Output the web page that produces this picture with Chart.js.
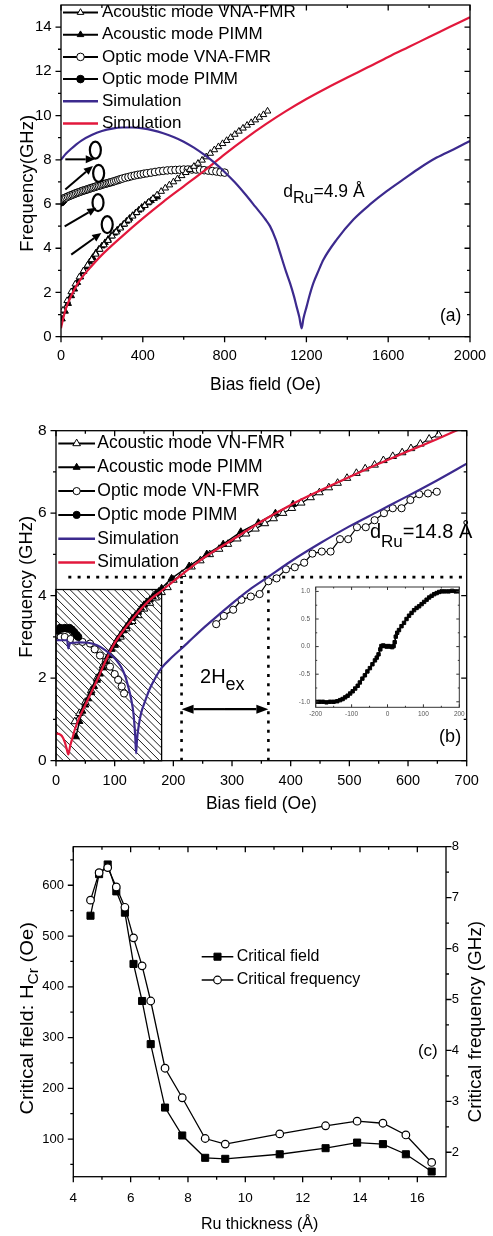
<!DOCTYPE html>
<html><head><meta charset="utf-8">
<script src="https://cdn.jsdelivr.net/npm/chart.js@4.4.1/dist/chart.umd.min.js"></script>
<style>
html,body{margin:0;padding:0;background:#fff;overflow:hidden}
#wrap{position:relative;width:493px;height:1236px;background:#fff}
canvas{position:absolute;left:0}
</style></head><body>
<div id="wrap">
<canvas id="ca" width="493" height="400" style="top:0px"></canvas>
<canvas id="cb" width="493" height="420" style="top:400px"></canvas>
<canvas id="cc" width="493" height="416" style="top:820px"></canvas>
<canvas id="cd" width="175" height="145" style="top:580px;left:290px"></canvas>
</div>
<script>
// ================= Panel (a) data =================
const A_X_TICKS = [0,400,800,1200,1600,2000];
const A_X_MINOR = [200,600,1000,1400,1800];
const A_Y_TICKS = [0,2,4,6,8,10,12,14];
const A_Y_MINOR = [1,3,5,7,9,11,13];
const A_LABELS = ['Acoustic mode VNA-FMR','Acoustic mode PIMM','Optic mode VNA-FMR','Optic mode PIMM','Simulation','Simulation'];

const A_AC_VNA_H = [10,30,50,70,90,110,130,150,170,190,210,230,250,270,290,310,330,350,370,390,410,430,450,470,490,510,530,550,570,590,610,630,650,670,690,710,730,750,770,790,810,830,850,870,890,910,930,950,970,990,1010];
const A_AC_VNA_F = [1.2,1.63,2.03,2.38,2.7,2.98,3.23,3.48,3.73,3.95,4.15,4.35,4.55,4.73,4.91,5.09,5.27,5.45,5.61,5.77,5.93,6.09,6.25,6.41,6.57,6.72,6.86,7.0,7.14,7.28,7.42,7.56,7.7,7.84,7.98,8.13,8.29,8.45,8.59,8.73,8.87,9.01,9.15,9.29,9.43,9.56,9.68,9.8,9.92,10.04,10.2];

const A_AC_PIMM_H = [5,20,35,50,65,80,95,110,125,140,155,170,185,200,215,230,245,260,275,290,305,320,335,350,365,380,395,410,425,440,455,470];
const A_AC_PIMM_F = [0.8,1.15,1.5,1.85,2.15,2.45,2.7,2.95,3.15,3.38,3.58,3.78,3.95,4.1,4.25,4.4,4.55,4.68,4.82,4.95,5.08,5.22,5.35,5.48,5.6,5.72,5.85,5.95,6.05,6.15,6.25,6.32];

const A_OP_VNA_H = [2,10,18,26,34,42,50,58,66,74,82,90,98,106,114,122,130,138,146,154,162,170,178,186,194,202,210,218,226,234,242,250,260,270,280,290,300,315,330,345,360,375,390,405,420,440,460,480,500,520,540,560,580,600,620,640,660,680,700,720,740,760,780,800];
const A_OP_VNA_F = [6.21,6.24,6.27,6.3,6.34,6.37,6.4,6.43,6.46,6.49,6.52,6.54,6.57,6.6,6.62,6.64,6.67,6.69,6.72,6.74,6.76,6.79,6.81,6.83,6.85,6.88,6.9,6.92,6.94,6.96,6.98,7.0,7.03,7.06,7.09,7.12,7.15,7.19,7.22,7.26,7.29,7.32,7.34,7.37,7.39,7.42,7.45,7.48,7.5,7.52,7.53,7.54,7.55,7.56,7.56,7.56,7.56,7.55,7.53,7.51,7.49,7.47,7.44,7.42];

const A_OP_PIMM_H = [1,4,7,10,13];
const A_OP_PIMM_F = [6.08,6.12,6.15,6.18,6.2];

const A_SIM_BLUE_H = [0,25,50,75,100,150,200,250,300,350,400,450,500,550,600,650,700,750,800,850,900,950,1000,1022,1050,1071,1100,1120,1140,1152,1165,1177,1185,1201,1215,1234,1260,1283,1348,1430,1511,1593,1674,1756,1837,1919,2000];
const A_SIM_BLUE_F = [8.0,8.28,8.5,8.7,8.87,9.12,9.3,9.41,9.46,9.46,9.42,9.33,9.2,9.03,8.82,8.55,8.23,7.87,7.45,6.98,6.45,5.88,5.3,5.0,4.4,3.8,2.95,2.42,1.8,1.36,0.9,0.38,0.8,1.36,1.85,2.42,3.0,3.48,4.39,5.3,5.98,6.58,7.11,7.64,8.1,8.47,8.85];

const A_SIM_RED_H = [0,10,25,50,75,100,150,200,300,400,500,600,700,800,900,1000,1100,1200,1300,1400,1500,1600,1700,1800,1900,2000];
const A_SIM_RED_F = [0.38,0.8,1.3,1.85,2.3,2.65,3.2,3.7,4.55,5.35,6.1,6.8,7.5,8.25,8.95,9.6,10.2,10.75,11.25,11.72,12.18,12.65,13.1,13.55,14.0,14.45];

// annotation arrows [H1,f1,H2,f2] and rings [H,f] (data units)
const A_ARROWS = [[21,8.02,165,8.02],[21,6.66,156,7.72],[18,4.99,173,5.83],[50,3.71,197,4.69]];
const A_RINGS = [[168,8.44],[184,7.39],[181,6.06],[226,5.07]];
const A_NOTE_AT = [1087,6.33];
const A_TAG_AT = [1853,0.91];

// ================= Panel (b) data =================
const B_X_TICKS = [0,100,200,300,400,500,600,700];
const B_X_MINOR = [50,150,250,350,450,550,650];
const B_Y_TICKS = [0,2,4,6,8];
const B_Y_MINOR = [1,3,5,7];
const B_LABELS = ['Acoustic mode VN-FMR','Acoustic mode PIMM','Optic mode VN-FMR','Optic mode PIMM','Simulation','Simulation'];

const B_AC_VNA_H = [32,40,50,60,70,80,90,100,110,120,130,140,150,160,170,180,190,200,215,231,246,262,278,293,309,324,340,356,371,387,402,418,434,449,465,480,496,512,527,543,558,574,590,605,621,636,652];
const B_AC_VNA_F = [0.95,1.15,1.42,1.7,2.0,2.3,2.55,2.8,3.0,3.2,3.38,3.52,3.68,3.82,3.95,4.08,4.2,4.38,4.52,4.7,4.85,5.0,5.13,5.25,5.38,5.5,5.62,5.75,5.87,6.0,6.12,6.25,6.38,6.5,6.62,6.73,6.85,6.97,7.08,7.17,7.28,7.38,7.47,7.57,7.68,7.8,7.9];

const B_AC_PIMM_H = [34,40,45,50,55,60,65,70,75,80,85,90,95,100,105,110,115,120,125,130,135,140,145,150,155,160,165,170,175,180,197,227,257,285,315,345,374,404];
const B_AC_PIMM_F = [0.58,0.95,1.2,1.35,1.5,1.65,1.8,1.95,2.1,2.25,2.4,2.55,2.7,2.82,2.95,3.05,3.15,3.25,3.35,3.45,3.52,3.6,3.7,3.78,3.85,3.9,3.98,4.05,4.1,4.18,4.42,4.72,5.01,5.25,5.55,5.77,6.0,6.22];

const B_OP_VNA_H = [3,8,15,25,35,45,58,66,75,85,92,100,106,112,116,200,273,286,302,316,332,347,362,376,392,407,423,437,453,468,484,498,513,528,543,559,574,589,604,619,634,649];
const B_OP_VNA_F = [3.05,3.0,3.0,2.95,2.9,2.88,2.84,2.7,2.55,2.4,2.28,2.1,1.96,1.8,1.63,null,3.31,3.51,3.66,3.9,3.98,4.04,4.35,4.42,4.64,4.69,4.8,5.02,5.07,5.07,5.37,5.37,5.66,5.66,5.83,6.0,6.12,6.12,6.32,6.46,6.48,6.52];

const B_OP_PIMM_H = [3,7,11,15,19,23,27,31,35,38];
const B_OP_PIMM_F = [3.15,3.22,3.2,3.22,3.2,3.22,3.18,3.12,3.05,3.0];

const B_SIM_BLUE_H = [0,10,19,21,24,30,40,55,70,84,95,105,112,118,123,128,132,135,136.5,138,141,145,152,160,169,180,197,214,226,254,280,305,330,362,400,450,500,550,600,650,700];
const B_SIM_BLUE_F = [2.92,2.92,2.92,2.72,2.85,2.86,2.87,2.86,2.8,2.68,2.55,2.4,2.25,2.05,1.8,1.5,1.15,0.6,0.18,0.5,0.85,1.15,1.45,1.75,2.0,2.25,2.5,2.72,2.88,3.25,3.57,3.87,4.15,4.46,4.83,5.27,5.68,6.05,6.42,6.8,7.2];

const B_SIM_RED_H = [0,5,10,15,18,21,24,28,32,40,50,60,70,84,100,120,140,160,180,200,250,300,350,400,450,500,550,600,650,690];
const B_SIM_RED_F = [0.66,0.65,0.6,0.45,0.3,0.15,0.35,0.55,0.75,1.05,1.35,1.65,1.95,2.4,2.85,3.25,3.6,3.9,4.12,4.35,4.9,5.35,5.8,6.2,6.55,6.88,7.2,7.5,7.8,8.05];

const B_HATCH = [0,180,0,4.15];          // H0,H1,f0,f1
const B_HEX = [214,362];                 // 2Hex field bounds
const B_HEX_LEVEL = 4.45;                // horizontal dotted level
const B_DOT_START = 21;
const B_ARROW_LEVEL = 1.25;
const B_HEX_TEXT_AT = [245.5,1.876];
const B_NOTE_AT = [535,5.39];
const B_TAG_AT = [653,0.567];

// Inset (hysteresis loop)
const INS_X_TICKS = [-200,-100,0,100,200];
const INS_X_MINOR = [-150,-50,50,150];
const INS_Y_TICKS = [-1,-0.5,0,0.5,1];
const INS_Y_MINOR = [-0.75,-0.25,0.25,0.75];
const INS_H = [-200,-190,-180,-170,-160,-150,-140,-132,-125,-118,-111,-104,-97,-90,-83,-77,-70,-63,-56,-49,-42,-35,-30,-25,-20,-17,-12,-7,-2,3,8,13,17,20,23,27,32,39,46,53,60,67,74,81,88,95,102,109,116,123,130,137,144,151,160,170,180,190,200];
const INS_M = [-1.0,-1.0,-1.0,-1.01,-1.0,-1.0,-0.99,-0.97,-0.95,-0.92,-0.89,-0.85,-0.81,-0.76,-0.71,-0.65,-0.58,-0.52,-0.45,-0.39,-0.32,-0.25,-0.2,-0.14,-0.05,0.01,0.02,0.01,0.0,0.01,0.0,-0.01,0.01,0.08,0.18,0.25,0.3,0.37,0.43,0.5,0.56,0.61,0.66,0.7,0.73,0.77,0.81,0.85,0.89,0.92,0.95,0.97,0.99,1.0,1.0,1.0,1.01,1.0,1.0];

// ================= Panel (c) data =================
const C_X_TICKS = [4,6,8,10,12,14,16];
const C_X_MINOR = [5,7,9,11,13,15];
const C_Y_TICKS = [100,200,300,400,500,600];
const C_Y_MINOR = [50,150,250,350,450,550,650];
const C_Y2_TICKS = [2,3,4,5,6,7,8];
const C_Y2_MINOR = [2.5,3.5,4.5,5.5,6.5,7.5];
const C_LABELS = ['Critical field','Critical frequency'];
const C_RU = [4.6,4.9,5.2,5.5,5.8,6.1,6.4,6.7,7.2,7.8,8.6,9.3,11.2,12.8,13.9,14.8,15.6,16.5];
const C_FIELD = [540,622,641,588,546,445,372,287,162,107,63,61,70,82,93,90,70,36];
const C_FREQ = [6.95,7.49,7.59,7.21,6.81,6.21,5.66,4.97,3.65,3.07,2.27,2.16,2.36,2.52,2.61,2.57,2.34,1.80];
const C_TAG_AT = [16.02,272];

// ================= helpers =================
const FONT = '"Liberation Sans", Arial, Helvetica, sans-serif';
Chart.defaults.font.family = FONT;
Chart.defaults.color = '#000';
const BLUE = '#3c2a8e', RED = '#e2183c';
const num = v => String(v);

function pts(xs, ys) { return xs.map((x, i) => ({x: x, y: ys[i]})); }

function series(label, xs, ys, st) {
  return {
    label: label, data: pts(xs, ys),
    borderColor: st.line, borderWidth: st.lw,
    pointStyle: st.ps || 'circle', pointRadius: st.r || 0, pointHoverRadius: st.r || 0,
    pointBackgroundColor: st.fill || '#000', pointBorderColor: '#000', pointBorderWidth: st.pbw || 1,
    cubicInterpolationMode: st.smooth ? 'monotone' : 'default', tension: 0,
    spanGaps: false, fill: false, order: st.order, yAxisID: st.yid || 'y',
    legendLw: st.llw || 2
  };
}

function xScale(min, max, ticks, o) {
  return {
    type: 'linear', min: min, max: max, position: 'bottom',
    grid: {display: false, drawTicks: false}, border: {display: false},
    afterBuildTicks: s => { s.ticks = ticks.map(v => ({value: v})); },
    afterFit: s => { s.height = o.h; s.paddingLeft = 0; s.paddingRight = 0; },
    ticks: {autoSkip: false, maxRotation: 0, minRotation: 0, padding: o.pad, color: o.color || '#000',
            font: {size: o.fs}, callback: o.fmt || num},
    title: o.title ? {display: true, text: o.title, color: '#000', font: {size: o.tfs},
            padding: {top: 0, bottom: o.tpad}} : {display: false}
  };
}
function yScale(min, max, ticks, o) {
  return {
    type: 'linear', min: min, max: max, position: o.pos || 'left',
    grid: {display: false, drawTicks: false}, border: {display: false},
    afterBuildTicks: s => { s.ticks = ticks.map(v => ({value: v})); },
    afterFit: s => { s.width = o.w; s.paddingTop = 0; s.paddingBottom = 0; },
    ticks: {autoSkip: false, padding: o.pad, color: o.color || '#000', font: {size: o.fs}, callback: o.fmt || num},
    title: {display: false}
  };
}

function framePlugin(spec) {
  return { id: 'frame', afterDatasetsDraw(chart) {
    const ctx = chart.ctx, a = chart.chartArea, sx = chart.scales.x, sy = chart.scales.y, sy2 = chart.scales.y2;
    const M = spec.M, m = spec.m, out = spec.out ? 1 : -1;
    ctx.save();
    ctx.strokeStyle = spec.color; ctx.lineWidth = spec.lw; ctx.setLineDash([]);
    ctx.strokeRect(a.left, a.top, a.right - a.left, a.bottom - a.top);
    ctx.beginPath();
    const xt = (vals, len) => vals.forEach(v => { const p = sx.getPixelForValue(v);
      ctx.moveTo(p, a.bottom); ctx.lineTo(p, a.bottom + out * len);
      ctx.moveTo(p, a.top); ctx.lineTo(p, a.top + len); });
    const yt = (vals, len) => vals.forEach(v => { const p = sy.getPixelForValue(v);
      ctx.moveTo(a.left, p); ctx.lineTo(a.left - out * len, p);
      if (!sy2) { ctx.moveTo(a.right, p); ctx.lineTo(a.right - len, p); } });
    const y2t = (vals, len) => vals.forEach(v => { const p = sy2.getPixelForValue(v);
      ctx.moveTo(a.right, p); ctx.lineTo(a.right + out * len, p); });
    xt(spec.xM, M); xt(spec.xm, m); yt(spec.yM, M); yt(spec.ym, m);
    if (sy2) { y2t(spec.y2M, M); y2t(spec.y2m, m); }
    ctx.stroke(); ctx.restore();
  }};
}

function drawLegend(chart, L) {
  const ctx = chart.ctx;
  chart.data.datasets.forEach((d, i) => {
    const y = L.y0 + i * L.dy;
    ctx.save();
    ctx.strokeStyle = d.borderColor; ctx.lineWidth = d.legendLw;
    ctx.beginPath(); ctx.moveTo(L.x0, y); ctx.lineTo(L.x1, y); ctx.stroke();
    if (d.pointRadius > 0) {
      ctx.fillStyle = d.pointBackgroundColor; ctx.strokeStyle = d.pointBorderColor; ctx.lineWidth = d.pointBorderWidth;
      Chart.helpers.drawPoint(ctx, {pointStyle: d.pointStyle, radius: d.pointRadius, rotation: 0, borderWidth: d.pointBorderWidth}, (L.x0 + L.x1) / 2, y);
    }
    ctx.fillStyle = '#000'; ctx.font = L.fs + 'px ' + FONT; ctx.textBaseline = 'middle'; ctx.textAlign = 'left';
    ctx.fillText(d.label, L.tx, y);
    ctx.restore();
  });
}

function drawRich(ctx, x, y, parts) {
  let cx = x;
  ctx.textBaseline = 'alphabetic'; ctx.textAlign = 'left'; ctx.fillStyle = '#000';
  parts.forEach(p => { ctx.font = p[1] + 'px ' + FONT; ctx.fillText(p[0], cx, y + (p[2] || 0)); cx += ctx.measureText(p[0]).width; });
}
function richWidth(ctx, parts) {
  let w = 0; parts.forEach(p => { ctx.font = p[1] + 'px ' + FONT; w += ctx.measureText(p[0]).width; }); return w;
}
function drawVText(ctx, cx, cy, parts, stretch, size) {
  ctx.save();
  ctx.translate(cx, cy); ctx.rotate(-Math.PI / 2); ctx.scale(stretch, 1);
  const w = richWidth(ctx, parts);
  drawRich(ctx, -w / 2, size * 0.36, parts);
  ctx.restore();
}
function arrowHead(ctx, x1, y1, x2, y2, head, hw) {
  const ang = Math.atan2(y2 - y1, x2 - x1);
  const bx = x2 - head * Math.cos(ang), by = y2 - head * Math.sin(ang);
  ctx.beginPath(); ctx.moveTo(x1, y1); ctx.lineTo(bx, by); ctx.stroke();
  ctx.beginPath(); ctx.moveTo(x2, y2);
  ctx.lineTo(bx + hw * Math.sin(ang), by - hw * Math.cos(ang));
  ctx.lineTo(bx - hw * Math.sin(ang), by + hw * Math.cos(ang));
  ctx.closePath(); ctx.fill();
}

const baseOpts = {responsive: false, animation: false, events: [],
  plugins: {legend: {display: false}, tooltip: {enabled: false}}};

// ================= Chart (a) =================
new Chart(document.getElementById('ca'), {
  type: 'line',
  data: {datasets: [
    series(A_LABELS[0], A_AC_VNA_H, A_AC_VNA_F, {line: '#000', lw: 1, ps: 'triangle', r: 3.8, fill: '#fff', order: 1}),
    series(A_LABELS[1], A_AC_PIMM_H, A_AC_PIMM_F, {line: '#000', lw: 1, ps: 'triangle', r: 3.8, fill: '#000', order: 2}),
    series(A_LABELS[2], A_OP_VNA_H, A_OP_VNA_F, {line: '#000', lw: 1, ps: 'circle', r: 3.8, fill: '#fff', order: 1}),
    series(A_LABELS[3], A_OP_PIMM_H, A_OP_PIMM_F, {line: '#000', lw: 1, ps: 'circle', r: 3.8, fill: '#000', order: 1}),
    series(A_LABELS[4], A_SIM_BLUE_H, A_SIM_BLUE_F, {line: BLUE, lw: 2.2, smooth: true, order: 0, llw: 2.6}),
    series(A_LABELS[5], A_SIM_RED_H, A_SIM_RED_F, {line: RED, lw: 2.2, smooth: true, order: 0, llw: 2.6})
  ]},
  options: Object.assign({}, baseOpts, {
    layout: {padding: {left: 0, right: 23, top: 5, bottom: 0}},
    scales: {
      x: xScale(0, 2000, A_X_TICKS, {h: 63.3, pad: 10.5, fs: 14.5, title: 'Bias field (Oe)', tfs: 17.5, tpad: 4.5}),
      y: yScale(0, 15, A_Y_TICKS, {w: 61, pad: 9.3, fs: 15})
    }
  }),
  plugins: [
    framePlugin({M: 5.5, m: 3, out: true, color: '#000', lw: 1.3, xM: A_X_TICKS, xm: A_X_MINOR, yM: A_Y_TICKS, ym: A_Y_MINOR}),
    {id: 'annA', afterDraw(chart) {
      const ctx = chart.ctx, sx = chart.scales.x, sy = chart.scales.y;
      drawLegend(chart, {x0: 63, x1: 98, tx: 102, y0: 12.5, dy: 22.2, fs: 17});
      ctx.save();
      ctx.strokeStyle = '#000'; ctx.fillStyle = '#000'; ctx.lineWidth = 2;
      A_ARROWS.forEach(a => arrowHead(ctx, sx.getPixelForValue(a[0]), sy.getPixelForValue(a[1]), sx.getPixelForValue(a[2]), sy.getPixelForValue(a[3]), 9, 4));
      ctx.lineWidth = 2.2;
      A_RINGS.forEach(r => { ctx.beginPath(); ctx.ellipse(sx.getPixelForValue(r[0]), sy.getPixelForValue(r[1]), 5.5, 8.5, 0, 0, Math.PI * 2); ctx.stroke(); });
      drawRich(ctx, sx.getPixelForValue(A_NOTE_AT[0]), sy.getPixelForValue(A_NOTE_AT[1]), [['d', 17.5, 0], ['Ru', 16, 6.7], ['=4.9 Å', 17.5, 0]]);
      ctx.font = '17.5px ' + FONT; ctx.textBaseline = 'middle';
      ctx.fillText('(a)', sx.getPixelForValue(A_TAG_AT[0]), sy.getPixelForValue(A_TAG_AT[1]));
      drawVText(ctx, 26.7, 183.3, [['Frequency(GHz)', 18.5, 0]], 1.0, 18.5);
      ctx.restore();
    }}
  ]
});

// ================= Chart (b) =================
new Chart(document.getElementById('cb'), {
  type: 'line',
  data: {datasets: [
    series(B_LABELS[0], B_AC_VNA_H, B_AC_VNA_F, {line: '#000', lw: 1.2, ps: 'triangle', r: 4.4, fill: '#fff', order: 2}),
    series(B_LABELS[1], B_AC_PIMM_H, B_AC_PIMM_F, {line: '#000', lw: 1.4, ps: 'triangle', r: 4, fill: '#000', order: 1}),
    series(B_LABELS[2], B_OP_VNA_H, B_OP_VNA_F, {line: '#000', lw: 1.2, ps: 'circle', r: 3.6, fill: '#fff', order: 2}),
    series(B_LABELS[3], B_OP_PIMM_H, B_OP_PIMM_F, {line: '#000', lw: 1.2, ps: 'circle', r: 3.6, fill: '#000', order: 1}),
    series(B_LABELS[4], B_SIM_BLUE_H, B_SIM_BLUE_F, {line: BLUE, lw: 2.2, smooth: true, order: 0, llw: 2.6}),
    series(B_LABELS[5], B_SIM_RED_H, B_SIM_RED_F, {line: RED, lw: 2.2, smooth: true, order: 0, llw: 2.6})
  ]},
  options: Object.assign({}, baseOpts, {
    layout: {padding: {left: 0, right: 26.3, top: 30.7, bottom: 0}},
    scales: {
      x: xScale(0, 700, B_X_TICKS, {h: 59.3, pad: 12, fs: 14.5, title: 'Bias field (Oe)', tfs: 17.5, tpad: 5.5}),
      y: yScale(0, 8, B_Y_TICKS, {w: 56, pad: 9.3, fs: 15.5})
    }
  }),
  plugins: [
    {id: 'bgB', beforeDatasetsDraw(chart) {
      const ctx = chart.ctx, sx = chart.scales.x, sy = chart.scales.y;
      const x0 = sx.getPixelForValue(B_HATCH[0]), x1 = sx.getPixelForValue(B_HATCH[1]);
      const y0 = sy.getPixelForValue(B_HATCH[2]), y1 = sy.getPixelForValue(B_HATCH[3]);
      ctx.save();
      ctx.beginPath(); ctx.rect(x0, y1, x1 - x0, y0 - y1); ctx.clip();
      ctx.strokeStyle = '#000'; ctx.lineWidth = 0.9; ctx.beginPath();
      const h = y0 - y1;
      for (let s = x0 - h; s < x1 + 2; s += 7.4) { ctx.moveTo(s, y1); ctx.lineTo(s + h, y0); }
      ctx.stroke(); ctx.restore();
      ctx.save(); ctx.strokeStyle = '#000'; ctx.lineWidth = 1.3; ctx.strokeRect(x0, y1, x1 - x0, y0 - y1);
      // dotted guide lines
      ctx.setLineDash([3, 6.3]); ctx.lineWidth = 2.6;
      const yl = sy.getPixelForValue(B_HEX_LEVEL);
      ctx.beginPath(); ctx.moveTo(sx.getPixelForValue(B_DOT_START), yl); ctx.lineTo(sx.getPixelForValue(700), yl); ctx.stroke();
      B_HEX.forEach(v => { const px = sx.getPixelForValue(v); ctx.beginPath(); ctx.moveTo(px, sy.getPixelForValue(0)); ctx.lineTo(px, yl); ctx.stroke(); });
      ctx.restore();
    }},
    framePlugin({M: 5.5, m: 3, out: true, color: '#000', lw: 1.3, xM: B_X_TICKS, xm: B_X_MINOR, yM: B_Y_TICKS, ym: B_Y_MINOR}),
    {id: 'annB', afterDraw(chart) {
      const ctx = chart.ctx, sx = chart.scales.x, sy = chart.scales.y;
      drawLegend(chart, {x0: 58.3, x1: 95, tx: 97.3, y0: 43.5, dy: 23.8, fs: 17.5});
      ctx.save();
      ctx.strokeStyle = '#000'; ctx.fillStyle = '#000'; ctx.lineWidth = 2.2;
      const ya = sy.getPixelForValue(B_ARROW_LEVEL), xa = sx.getPixelForValue(B_HEX[0]), xb = sx.getPixelForValue(B_HEX[1]);
      const mid = (xa + xb) / 2;
      arrowHead(ctx, mid, ya, xa, ya, 12, 4.5);
      arrowHead(ctx, mid, ya, xb, ya, 12, 4.5);
      drawRich(ctx, sx.getPixelForValue(B_HEX_TEXT_AT[0]), sy.getPixelForValue(B_HEX_TEXT_AT[1]), [['2H', 20, 0], ['ex', 18, 6.7]]);
      drawRich(ctx, sx.getPixelForValue(B_NOTE_AT[0]), sy.getPixelForValue(B_NOTE_AT[1]), [['d', 20, 0], ['Ru', 17, 9], ['=14.8 Å', 20, 0]]);
      ctx.font = '18px ' + FONT; ctx.textBaseline = 'middle';
      ctx.fillText('(b)', sx.getPixelForValue(B_TAG_AT[0]), sy.getPixelForValue(B_TAG_AT[1]));
      drawVText(ctx, 25.7, 186.7, [['Frequency (GHz)', 18.5, 0]], 1.0, 18.5);
      ctx.restore();
    }}
  ]
});

// ================= Inset =================
new Chart(document.getElementById('cd'), {
  type: 'line',
  data: {datasets: [
    series('M/Ms', INS_H, INS_M, {line: '#000', lw: 1.6, ps: 'rect', r: 2.4, fill: '#000', order: 0})
  ]},
  options: Object.assign({}, baseOpts, {
    layout: {padding: {left: 0, right: 5.7, top: 7, bottom: 0}},
    scales: {
      x: xScale(-200, 200, INS_X_TICKS, {h: 17.7, pad: 3, fs: 6.5, color: '#555'}),
      y: yScale(-1.1, 1.08, INS_Y_TICKS, {w: 25.7, pad: 5.7, fs: 6.5, color: '#555', fmt: v => v.toFixed(1)})
    }
  }),
  plugins: [
    {id: 'bgD', beforeDatasetsDraw(chart) { const a = chart.chartArea, ctx = chart.ctx;
      ctx.save(); ctx.fillStyle = '#fff'; ctx.fillRect(a.left, a.top, a.right - a.left, a.bottom - a.top); ctx.restore(); }},
    framePlugin({M: 3, m: 1.5, out: false, color: '#333', lw: 1, xM: INS_X_TICKS, xm: INS_X_MINOR, yM: INS_Y_TICKS, ym: INS_Y_MINOR})
  ]
});

// ================= Chart (c) =================
new Chart(document.getElementById('cc'), {
  type: 'line',
  data: {datasets: [
    series(C_LABELS[0], C_RU, C_FIELD, {line: '#000', lw: 1.3, ps: 'rect', r: 5, fill: '#000', order: 1, yid: 'y', llw: 1.6}),
    series(C_LABELS[1], C_RU, C_FREQ, {line: '#000', lw: 1.3, ps: 'circle', r: 3.8, fill: '#fff', pbw: 1.2, order: 0, yid: 'y2', llw: 1.6})
  ]},
  options: Object.assign({}, baseOpts, {
    layout: {padding: {left: 0, right: 0, top: 26.7, bottom: 0}},
    scales: {
      x: xScale(4, 17, C_X_TICKS, {h: 59.3, pad: 13, fs: 13.5, title: 'Ru thickness (Å)', tfs: 16, tpad: 1.4}),
      y: yScale(25.8, 676, C_Y_TICKS, {w: 73.3, pad: 9.3, fs: 13}),
      y2: yScale(1.52, 8, C_Y2_TICKS, {w: 47, pad: 5.7, fs: 13, pos: 'right'})
    }
  }),
  plugins: [
    framePlugin({M: 5.5, m: 3, out: true, color: '#000', lw: 1.3, xM: C_X_TICKS, xm: C_X_MINOR, yM: C_Y_TICKS, ym: C_Y_MINOR, y2M: C_Y2_TICKS, y2m: C_Y2_MINOR}),
    {id: 'annC', afterDraw(chart) {
      const ctx = chart.ctx, sx = chart.scales.x, sy = chart.scales.y;
      drawLegend(chart, {x0: 201.7, x1: 233.3, tx: 236.7, y0: 136.7, dy: 23.3, fs: 16});
      ctx.save();
      ctx.font = '17px ' + FONT; ctx.textBaseline = 'middle'; ctx.fillStyle = '#000';
      ctx.fillText('(c)', sx.getPixelForValue(C_TAG_AT[0]), sy.getPixelForValue(C_TAG_AT[1]));
      drawVText(ctx, 26.7, 198.3, [['Critical field: H', 18, 0], ['Cr', 14, 4.5], [' (Oe)', 18, 0]], 1.12, 18);
      drawVText(ctx, 475, 201.7, [['Critical frequency (GHz)', 18, 0]], 1.05, 18);
      ctx.restore();
    }}
  ]
});
</script>
</body></html>
